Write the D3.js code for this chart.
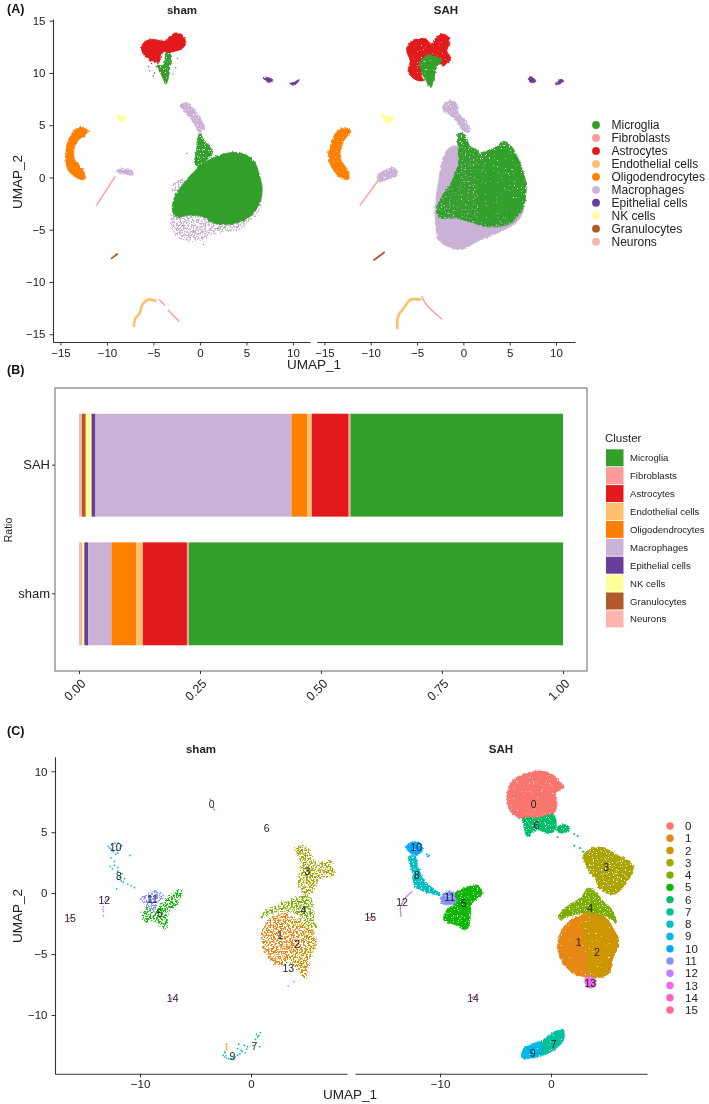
<!DOCTYPE html>
<html>
<head>
<meta charset="utf-8">
<script src="https://cdn.jsdelivr.net/npm/d3@7"></script>
<style>
  html, body { margin: 0; padding: 0; background: #fff; }
  svg { display: block; font-family: "Liberation Sans", Arial, sans-serif; filter: blur(0.35px); }
</style>
</head>
<body>
<svg id="chart" width="709" height="1104"></svg>
<script>
// cell types, in legend order
const cellTypes = ['Microglia', 'Fibroblasts', 'Astrocytes', 'Endothelial cells', 'Oligodendrocytes', 'Macrophages', 'Epithelial cells', 'NK cells', 'Granulocytes', 'Neurons']
const cellColors = ['#33A02C', '#FB9A99', '#E31A1C', '#FDBF6F', '#FF7F00', '#CAB2D6', '#6A3D9A', '#FFFF99', '#B15928', '#FBB4AE']
const clusterIds = ['0', '1', '2', '3', '4', '5', '6', '7', '8', '9', '10', '11', '12', '13', '14', '15']
const clusterColors = ['#F8766D', '#E68613', '#CD9600', '#ABA300', '#7CAE00', '#0CB702', '#00BE67', '#00C19A', '#00BFC4', '#00B8E7', '#00A9FF', '#8494FF', '#C77CFF', '#ED68ED', '#FF61CC', '#FF68A1']

// panel B, share of cells per group (left to right in the stack)
const stackOrder = ['Neurons', 'Granulocytes', 'NK cells', 'Epithelial cells', 'Macrophages', 'Oligodendrocytes', 'Endothelial cells', 'Astrocytes', 'Fibroblasts', 'Microglia']
const sahRatio = [0.006, 0.008, 0.012, 0.008, 0.405, 0.033, 0.009, 0.076, 0.004, 0.439]
const shamRatio = [0.006, 0.0005, 0.0045, 0.008, 0.048, 0.051, 0.014, 0.091, 0.004, 0.773]
const ratioGroups = ['SAH', 'sham']
const ratioTicks = [0, 0.25, 0.5, 0.75, 1]

// tick values
const umapXTicksA = [-15, -10, -5, 0, 5, 10]
const umapYTicksA = [-15, -10, -5, 0, 5, 10, 15]
const umapXTicksC = [-10, 0]
const umapYTicksC = [-10, -5, 0, 5, 10]

// panel A sham, outlines in UMAP units
const shamMicrogliaMain = [[-2.97, -3.12], [-2.69, -1.85], [-1.43, -0.25], [0.36, 1.34], [2.51, 2.23], [4.3, 2.36], [5.73, 1.66], [6.45, 0.06], [6.7, -1.21], [6.27, -2.8], [5.02, -3.92], [3.23, -4.46], [1.43, -4.33], [0.36, -3.76], [-1.08, -3.6], [-2.51, -3.76]]
const shamMicrogliaNeck = [[0, 4.2], [0.43, 3.57], [1.08, 2.93], [1.33, 2.29], [0.72, 1.66], [0, 0.86], [-0.54, 1.34], [-0.36, 2.61], [-0.29, 3.57]]
const shamMicrogliaTop = [[-3.58, 12.17], [-3.05, 11.53], [-3.23, 10.57], [-3.41, 9.46], [-3.66, 8.92], [-4.12, 9.78], [-4.59, 10.73], [-3.94, 10.73]]
const shamAstro = [[-6.27, 12.17], [-6.09, 12.87], [-5.2, 13.22], [-3.94, 13.06], [-3.41, 13.28], [-2.69, 13.82], [-1.86, 13.6], [-1.51, 12.8], [-1.97, 12.32], [-3.05, 12.0], [-3.94, 12.0], [-4.37, 11.05], [-5.2, 11.2], [-5.91, 11.59]]
const shamEpiLeft = [[6.81, 9.55], [7.35, 9.55], [7.89, 9.3], [7.35, 9.1], [7.0, 9.3]]
const shamEpiRight = [[9.68, 8.98], [10.2, 9.14], [10.68, 9.36], [10.39, 8.98], [9.96, 8.82]]
const shamNk = [[-8.96, 5.89], [-8.42, 5.86], [-7.78, 5.8], [-8.17, 5.48], [-8.6, 5.41]]
const shamOligo = [[-12.37, 4.68], [-13.08, 4.78], [-13.9, 4.04], [-14.44, 2.29], [-14.16, 0.7], [-13.08, -0.1], [-12.37, -0.19], [-12.54, 0.7], [-13.44, 1.66], [-13.55, 2.61], [-13.08, 3.57], [-12.37, 4.04], [-12.0, 4.46]]
const shamMacTail = [[-2.15, 6.91], [-1.43, 7.13], [-0.54, 6.43], [0.18, 5.48], [0.47, 4.68], [0, 4.36], [-0.54, 5.0], [-1.25, 5.96], [-1.97, 6.62]]
const shamMacLeft = [[-8.96, 0.64], [-8.24, 0.86], [-7.35, 0.7], [-7.17, 0.22], [-8.06, 0.32], [-8.78, 0.38]]
const shamMacSide = [[-3.05, -1.05], [-2.51, -0.41], [-1.61, -0.19], [-1.79, -0.89], [-2.51, -1.37]]
const shamMacFringe = [[-2.97, -3.4], [-2.9, -5.0], [-2.15, -5.83], [0, -6.0], [1.43, -5.4], [4.3, -4.9], [6.1, -3.4], [6.6, -2.2], [5, -3], [0, -3]]
const shamAstroDots = [[-5.5, 10.6], [-5.2, 10.9], [-4.7, 10.6], [-4.9, 10.0], [-5, 9.7], [-4.3, 10.2], [-3.9, 9.6], [-5.4, 10.2], [-4.5, 10.9], [-3.7, 9.9]]
const shamMicrogliaDots = [[-2.6, 10.5], [-2.4, 11.4], [-2.9, 9.9], [-4.7, 11.3], [-1.4, 2.3], [0.4, -6.4], [-0.7, -5.1], [-1.9, -4.6], [1.9, -4.9], [2.7, -4.8]]

// panel A SAH, outlines in UMAP units
const sahMicrogliaMain = [[-2.88, -3.12], [-2.34, -1.85], [-1.26, -0.41], [-0.36, 1.34], [1.8, 2.29], [3.6, 2.93], [4.32, 3.47], [5.22, 2.93], [6.12, 1.34], [6.76, -0.57], [6.47, -2.8], [5.04, -4.39], [2.52, -4.71], [1.3, -4.4], [-1, -3.85], [-2.52, -3.85]]
const sahMicrogliaCore = [[3, 2.4], [5, 2.5], [6, 1], [6.4, -1], [6, -3], [4, -4.4], [2, -4], [1.5, -1], [1.7, 1]]
const sahMicrogliaNeck = [[-0.5, 4.3], [0.2, 4.0], [0.7, 3.0], [1.6, 2.5], [1.4, 1.5], [-0.3, 1.0], [-0.55, 2.5]]
const sahMicrogliaTop = [[-4.68, 11.05], [-3.78, 11.69], [-2.34, 11.2], [-2.88, 10.57], [-3.17, 9.55], [-3.53, 8.6], [-4.14, 9.46], [-4.5, 10.1]]
const sahMacMain = [[-2.88, -5.35], [-3.06, -2.8], [-2.7, -0.57], [-1.98, 2.29], [-1.08, 3.03], [0, 2.6], [1.44, 1.97], [5, -2.2], [6.5, -2.55], [5.94, -4.08], [3.6, -5.35], [1.44, -6.15], [-0.18, -6.88], [-1.8, -6.56], [-2.7, -5.99]]
const sahMacTail = [[-2.23, 6.75], [-1.62, 7.32], [-0.72, 7.07], [-0.54, 6.11], [0.36, 5.32], [0.65, 4.36], [0.07, 4.36], [-0.72, 5.32], [-1.44, 5.96], [-1.98, 6.27]]
const sahMacLeft = [[-9.28, 0.22], [-8.45, 0.7], [-7.37, 0.92], [-7.12, 0.22], [-8.45, -0.25], [-9.06, -0.41]]
const sahAstro = [[-6.12, 12.17], [-5.58, 13.06], [-4.14, 13.28], [-3.42, 12.8], [-2.7, 13.66], [-1.8, 13.6], [-1.44, 12.8], [-1.8, 12.17], [-1.37, 11.37], [-2.16, 10.73], [-3.24, 11.2], [-4.14, 11.05], [-4.5, 9.62], [-4.14, 9.3], [-5.04, 9.3], [-5.94, 10.1], [-5.76, 11.2]]
const sahEpiLeft = [[7.01, 9.55], [7.37, 9.62], [7.84, 9.2], [7.27, 9.08]]
const sahEpiRight = [[9.96, 8.89], [10.43, 9.36], [10.79, 9.3], [10.5, 8.98]]
const sahNk = [[-8.92, 6.05], [-8.09, 5.8], [-7.48, 5.8], [-7.91, 5.22], [-8.45, 5.41]]
const sahOligo = [[-12.95, 4.75], [-12.16, 4.46], [-12.95, 3.41], [-13.31, 1.97], [-12.41, 0.54], [-12.41, -0.16], [-13.13, -0.1], [-14.03, 0.7], [-14.57, 1.97], [-14.21, 3.41], [-13.67, 4.36]]

// panel A thin trails
const shamFibroLeft = [[-11.1, -2.64], [-10.2, -1.4], [-9.14, 0.06]]
const shamFibroLow = [[-4.37, -11.7], [-3.8, -12.2]]
const shamFibroLower = [[-3.4, -12.7], [-2.26, -13.75]]
const shamGranulo = [[-9.5, -7.74], [-8.89, -7.32]]
const shamEndo = [[-7.1, -14.2], [-6.95, -13.5], [-6.5, -13], [-6.2, -12.2], [-5.6, -11.7], [-4.8, -11.8]]
const sahFibroLeft = [[-11.15, -2.64], [-10.2, -1.5], [-9.17, -0.25]]
const sahFibroLow = [[-4.5, -11.4], [-3.96, -12.2], [-2.34, -13.54]]
const sahGranulo = [[-9.64, -7.9], [-8.56, -7.17]]
const sahEndo = [[-7.12, -14.43], [-7.05, -13.3], [-6.33, -12.36], [-5.76, -11.72], [-4.68, -11.66]]

const shamLooseA = [['Macrophages', shamMacFringe], ['Macrophages', shamMacSide]]
const shamGrainA = [['Macrophages', shamMacTail], ['Macrophages', shamMacLeft], ['Microglia', shamMicrogliaTop], ['Microglia', shamMicrogliaNeck]]
const shamSolidA = [['Microglia', shamMicrogliaMain], ['Astrocytes', shamAstro], ['Epithelial cells', shamEpiLeft], ['Epithelial cells', shamEpiRight], ['NK cells', shamNk], ['Oligodendrocytes', shamOligo]]
const shamDotsA = [['Astrocytes', shamAstroDots], ['Microglia', shamMicrogliaDots]]
const shamTrailsA = [['Fibroblasts', shamFibroLeft], ['Fibroblasts', shamFibroLow], ['Fibroblasts', shamFibroLower], ['Granulocytes', shamGranulo], ['Endothelial cells', shamEndo]]
const sahSolidA = [['Macrophages', sahMacMain], ['Epithelial cells', sahEpiLeft], ['Epithelial cells', sahEpiRight], ['NK cells', sahNk]]
const sahGrainA = [['Macrophages', sahMacTail], ['Macrophages', sahMacLeft], ['Microglia', sahMicrogliaNeck], ['Microglia', sahMicrogliaMain]]
const sahFineA = [['Astrocytes', sahAstro], ['Oligodendrocytes', sahOligo], ['Microglia', sahMicrogliaCore], ['Microglia', sahMicrogliaTop]]
const sahTrailsA = [['Fibroblasts', sahFibroLeft], ['Fibroblasts', sahFibroLow], ['Granulocytes', sahGranulo], ['Endothelial cells', sahEndo]]

// panel C sham
const cShamC3 = [[3.96, 3.7], [4.56, 3.92], [5.32, 3.56], [5.77, 2.6], [7.12, 2.6], [7.57, 1.56], [6.22, 1.23], [5.77, 0.41], [5.17, -0.14], [4.56, 0.14], [4.26, 1.23], [4.56, 2.33]]
const cShamC4 = [[0.81, -2.05], [1.41, -1.37], [3.21, -0.68], [4.56, -0.27], [5.32, -0.27], [5.62, -1.78], [5.77, -2.88], [5.02, -2.88], [4.71, -2.05], [3.21, -1.51], [1.41, -1.78]]
const cShamC1 = [[0.96, -3.42], [1.41, -2.33], [2.91, -1.64], [3.51, -1.78], [3.66, -5.34], [2.31, -5.89], [1.41, -5.07]]
const cShamC2 = [[3.51, -2.05], [5.02, -2.47], [5.92, -3.97], [5.32, -5.34], [4.86, -6.99], [4.41, -6.44], [3.51, -5.62]]
const cShamCore = [[2.01, -3.42], [3.21, -2.88], [4.71, -3.56], [4.56, -4.52], [3.21, -4.79], [2.16, -4.38]]
const cShamC5 = [[-9.7, -1.51], [-9.1, -0.96], [-8.2, -0.96], [-7.3, -0.14], [-6.55, 0.27], [-6.25, 0.14], [-6.7, -0.96], [-7.45, -1.51], [-7.6, -2.88], [-7.9, -2.88], [-8.8, -2.19], [-9.7, -2.33]]
const cShamC11 = [[-10, -0.47], [-9.25, 0], [-8.65, 0.22], [-7.9, -0.27], [-8.5, -0.82], [-8.65, -1.51], [-9.25, -1.23], [-9.7, -0.82]]
const cShamDots0 = [[-3.65, 7.7], [-3.4, 7.0], [-3.3, 6.85]]
const cShamDots2 = [[-2.2, -12.4], [-2.2, -12.6], [-2.2, -12.8], [-2.35, -13.0]]
const cShamDots7 = [[0.6, -11.8], [0.85, -11.45], [0.5, -11.6], [0.7, -11.7], [0.4, -12.0], [0.8, -12.6], [0.2, -12.5], [-0.3, -12.6], [-0.6, -12.5], [-1.1, -12.4], [-1.2, -12.75], [-0.9, -12.9], [-0.8, -13.0], [-0.5, -13.1], [-0.4, -12.8]]
const cShamDots8 = [[-12.6, 2.9], [-12.3, 2.6], [-12.7, 2.2], [-12.5, 2.0], [-12.3, 2.3], [-12.0, 1.8], [-11.6, 1.6], [-11.8, 1.3], [-11.4, 1.2], [-11.1, 0.75], [-10.8, 0.6], [-10.5, 0.45], [-12.1, 0.35], [-11.5, 0.9], [-12.0, 2.1], [-10.9, 3.1], [-12.2, 3.2], [-11.7, 1.0]]
const cShamDots9 = [[-2.5, -13.3], [-2.4, -13.45], [-2.2, -13.55], [-2.0, -13.6], [-1.8, -13.65], [-1.6, -13.55], [-1.4, -13.45], [-1.2, -13.3], [-2.35, -13.1], [-2.25, -13.35], [-1.0, -13.2], [-1.5, -13.6]]
const cShamDots10 = [[-12.85, 3.84], [-12.55, 3.97], [-12.25, 4.1], [-11.95, 4.1], [-11.8, 3.7], [-12.4, 3.42], [-12.1, 3.56], [-12.55, 3.6], [-11.65, 3.9], [-12.7, 3.7], [-12.0, 3.3]]
const cShamDots12 = [[-13.1, -0.55], [-12.9, -0.5], [-13.3, -1.1], [-13.35, -1.3], [-13.3, -1.5], [-13.3, -1.85], [-13.2, -0.7], [-12.8, -0.4]]
const cShamDots13 = [[4.2, -6.0], [3.35, -7.6], [3.85, -7.25], [5.0, -6.1]]
const cShamDots14 = [[-7.1, -8.6], [-6.9, -8.55], [-7.2, -8.7]]
const cShamDots15 = [[-16.3, -2.05], [-16.1, -2.0], [-16.4, -2.1]]
const cShamLabels = [[-3.54, 7.32], [2.61, -3.48], [4.17, -4.16], [5.08, 1.78], [4.71, -1.4], [-8.26, -1.67], [1.41, 5.32], [0.3, -12.6], [-11.89, 1.37], [-1.68, -13.4], [-12.19, 3.75], [-8.89, -0.47], [-13.21, -0.55], [3.36, -6.16], [-7.06, -8.63], [-16.31, -2.05]]

// panel C SAH
const cSahC0 = [[-3.96, 7.95], [-3.51, 9.18], [-2.16, 9.86], [-0.66, 10.0], [0.54, 9.45], [1.08, 8.63], [0.39, 8.22], [0.54, 7.4], [0.24, 6.52], [-1.26, 6.16], [-2.76, 6.16], [-3.66, 6.71]]
const cSahC6 = [[-2.61, 6.16], [-1.26, 6.16], [0.24, 6.44], [0.39, 5.2], [-0.21, 4.88], [-1.26, 5.2], [-2.16, 4.66], [-2.4, 5.48]]
const cSahC6b = [[0.54, 5.42], [1.29, 5.62], [1.74, 5.2], [1.14, 4.93], [0.54, 5.07]]
const cSahC3 = [[2.94, 3.15], [3.39, 3.56], [4.44, 3.78], [5.95, 3.15], [7.45, 2.19], [7.15, 1.37], [6.6, 0.6], [5.65, -0.1], [4.3, 0.4], [4.0, 1.2], [3.39, 1.78], [3.09, 2.47]]
const cSahC4 = [[0.69, -1.92], [1.44, -1.1], [2.64, -0.41], [3.39, 0.41], [4.14, 0], [4.59, -0.55], [5.5, -1.37], [5.89, -2.47], [5.05, -1.92], [3.24, -1.64], [1.44, -1.92], [0.84, -2.19]]
const cSahC1 = [[0.6, -4.38], [0.99, -3.01], [2.04, -2.05], [3.54, -1.64], [4.74, -1.92], [5.65, -3.01], [6.1, -4.11], [5.5, -5.48], [5.2, -6.58], [3.54, -6.9], [2.04, -6.58], [0.99, -5.62]]
const cSahC2 = [[3.0, -2.2], [4.74, -1.92], [5.65, -3.01], [6.1, -4.11], [5.5, -5.48], [5.2, -6.58], [3.54, -6.9], [3.2, -5]]
const cSahC13 = [[3.09, -6.99], [3.84, -6.9], [3.99, -7.67], [3.24, -7.73]]
const cSahC10 = [[-13.03, 3.84], [-12.52, 4.19], [-11.77, 4.11], [-11.62, 3.42], [-12.37, 3.15], [-12.82, 3.42]]
const cSahC8 = [[-12.82, 3.01], [-12.22, 3.01], [-11.92, 2.05], [-11.47, 1.1], [-9.97, -0.14], [-10.27, -0.14], [-12.22, 0.55], [-12.52, 1.78]]
const cSahC11 = [[-9.91, -0.41], [-9.37, 0.14], [-8.62, 0], [-8.47, -0.68], [-9.37, -0.96], [-9.82, -0.82]]
const cSahC5 = [[-8.62, 0], [-7.87, 0.41], [-6.52, 0.63], [-6.22, -0.14], [-7.12, -0.82], [-7.27, -2.05], [-7.63, -3.01], [-8.62, -2.6], [-9.67, -2.19], [-9.37, -1.37], [-8.47, -0.68]]
const cSahC7 = [[-1.26, -13.29], [-0.96, -12.33], [0.09, -11.51], [1.08, -11.18], [1.14, -12.05], [0.24, -12.88], [-0.66, -13.29]]
const cSahC9 = [[-2.61, -13.56], [-2.46, -12.74], [-1.86, -12.47], [-0.96, -12.19], [-0.96, -13.29], [-1.86, -13.56]]
const cSahTrail12 = [[-12.52, 0.14], [-13.27, -0.55], [-13.57, -1.23], [-13.51, -1.92]]
const cSahDots6 = [[2.1, 4.85], [2.4, 4.7], [0.6, 4.6], [2.1, 3.9], [2.6, 3.7], [2.9, 3.4]]
const cSahDots10 = [[-11.2, 3.2], [-11.0, 3.1], [-11.1, 3.0]]
const cSahDots14 = [[-7.1, -8.58], [-6.82, -8.5], [-6.95, -8.55]]
const cSahDots15 = [[-16.43, -2.0], [-16.1, -2.0], [-16.28, -2.05]]
const cSahLabels = [[-1.56, 7.29], [2.49, -4.0], [4.14, -4.88], [4.98, 2.14], [3.54, -1.23], [-7.87, -0.85], [-1.32, 5.53], [0.24, -12.38], [-12.07, 1.45], [-1.65, -13.15], [-12.13, 3.78], [-9.13, -0.36], [-13.42, -0.77], [3.54, -7.4], [-7.03, -8.6], [-16.28, -2.0]]

const cShamLoose = [[3, cShamC3], [4, cShamC4], [1, cShamC1], [2, cShamC2], [5, cShamC5], [11, cShamC11], [1, cShamCore]]
const cShamDots = [[0, cShamDots0], [2, cShamDots2], [7, cShamDots7], [8, cShamDots8], [9, cShamDots9], [10, cShamDots10], [12, cShamDots12], [13, cShamDots13], [14, cShamDots14], [15, cShamDots15]]
const cSahGrain = [[3, cSahC3], [4, cSahC4], [6, cSahC6], [6, cSahC6b], [5, cSahC5], [8, cSahC8]]
const cSahFine = [[0, cSahC0], [1, cSahC1], [2, cSahC2], [13, cSahC13], [10, cSahC10], [11, cSahC11], [7, cSahC7], [9, cSahC9]]
const cSahDots = [[6, cSahDots6], [10, cSahDots10], [14, cSahDots14], [15, cSahDots15]]

const svg = d3.select('#chart')
const axisColor = '#333'

const defs = svg.append('defs')

// point clouds are drawn as outlines: these filters give them the grain of the cloud
function addGrainFilter(id, roughness, slope, offset, frequency) {
  const f = defs.append('filter').attr('id', id)
    .attr('filterUnits', 'userSpaceOnUse')
    .attr('x', 0).attr('y', 0).attr('width', 709).attr('height', 1104)
    .attr('color-interpolation-filters', 'sRGB')
  f.append('feTurbulence').attr('type', 'fractalNoise').attr('baseFrequency', 0.35)
    .attr('numOctaves', 2).attr('seed', 4).attr('result', 'warp')
  f.append('feDisplacementMap').attr('in', 'SourceGraphic').attr('in2', 'warp')
    .attr('scale', roughness).attr('xChannelSelector', 'R').attr('yChannelSelector', 'G').attr('result', 'rough')
  f.append('feTurbulence').attr('type', 'fractalNoise').attr('baseFrequency', frequency)
    .attr('numOctaves', 1).attr('seed', 9)
  f.append('feColorMatrix').attr('type', 'matrix')
    .attr('values', `0 0 0 0 0  0 0 0 0 0  0 0 0 0 0  ${slope} 0 0 0 ${offset}`).attr('result', 'mask')
  f.append('feComposite').attr('in', 'rough').attr('in2', 'mask').attr('operator', 'in')
}
addGrainFilter('rough', 3, 0, 1, 0.8)
addGrainFilter('fine', 3, 14, -3.3, 0.75)
addGrainFilter('grain', 3, 14, -4.2, 0.75)
addGrainFilter('loose', 6, 16, -7.6, 0.6)

function drawShapes(group, shapes, colorOf, filterId) {
  const line = d3.line().x((d) => group.x(d[0])).y((d) => group.y(d[1])).curve(d3.curveCatmullRomClosed.alpha(0.5))
  group.node.append('g').attr('filter', `url(#${filterId})`)
    .selectAll('path').data(shapes).enter().append('path')
    .attr('d', (d) => line(d[1]))
    .attr('fill', (d) => colorOf(d[0]))
    .attr('stroke', (d) => colorOf(d[0]))
    .attr('stroke-width', 0.8)
}

function drawTrails(group, trails, colorOf, widthOf) {
  const line = d3.line().x((d) => group.x(d[0])).y((d) => group.y(d[1])).curve(d3.curveCatmullRom)
  group.node.append('g').selectAll('path').data(trails).enter().append('path')
    .attr('d', (d) => line(d[1]))
    .attr('fill', 'none')
    .attr('stroke', (d) => colorOf(d[0]))
    .attr('stroke-width', (d) => widthOf(d[0]))
    .attr('stroke-linecap', 'round')
}

function drawDots(group, dots, colorOf, radius) {
  const flat = dots.flatMap(([key, points]) => points.map((p) => ({ key, p })))
  group.node.append('g').selectAll('circle').data(flat).enter().append('circle')
    .attr('cx', (d) => group.x(d.p[0]))
    .attr('cy', (d) => group.y(d.p[1]))
    .attr('r', radius)
    .attr('fill', (d) => colorOf(d.key))
}

function styleAxis(g, fontSize) {
  g.selectAll('.domain').attr('stroke', axisColor).attr('stroke-width', 1.1)
  g.selectAll('.tick line').attr('stroke', axisColor).attr('stroke-width', 1)
  g.selectAll('.tick text').attr('fill', '#222').attr('font-size', fontSize).attr('font-family', '"Liberation Sans", Arial, sans-serif')
}

function makePanel(xDomain, xRange, yDomain, yRange) {
  return {
    node: svg.append('g'),
    x: d3.scaleLinear().domain(xDomain).range(xRange),
    y: d3.scaleLinear().domain(yDomain).range(yRange),
  }
}

function addTitle(text, x, y) {
  svg.append('text').attr('x', x).attr('y', y).attr('text-anchor', 'middle')
    .attr('font-size', 11.5).attr('font-weight', 'bold').attr('fill', '#222').text(text)
}

function addAxisLabel(text, x, y, size, rotate) {
  svg.append('text').attr('text-anchor', 'middle').attr('font-size', size).attr('fill', '#222')
    .attr('transform', `translate(${x},${y})${rotate ? ' rotate(-90)' : ''}`).text(text)
}

function addPanelTag(text, y) {
  svg.append('text').attr('x', 7).attr('y', y).attr('font-size', 12.5).attr('font-weight', 'bold').attr('fill', '#111').text(text)
}

function bottomAxis(scale, ticks, y) {
  svg.append('g').attr('transform', `translate(0,${y})`)
    .call(d3.axisBottom(scale).tickValues(ticks).tickSize(3.5).tickSizeOuter(0).tickPadding(3).tickFormat(d3.format('d')))
    .call(styleAxis, 11.5)
}

function leftAxis(scale, ticks, x) {
  svg.append('g').attr('transform', `translate(${x},0)`)
    .call(d3.axisLeft(scale).tickValues(ticks).tickSize(3.5).tickSizeOuter(0).tickPadding(4).tickFormat(d3.format('d')))
    .call(styleAxis, 11.5)
}

// ---------- panel A ----------
const cellColor = d3.scaleOrdinal().domain(cellTypes).range(cellColors)
const trailWidth = (name) => (name === 'Endothelial cells' ? 2.6 : name === 'Granulocytes' ? 1.8 : 1.3)

const shamA = makePanel([-15.8, 11.84], [53, 310], [-15.74, 15.16], [342, 19])
const sahA = makePanel([-15.8, 12.05], [317, 575], [-15.74, 15.16], [342, 19])

drawShapes(shamA, shamLooseA, cellColor, 'loose')
drawShapes(shamA, shamGrainA, cellColor, 'grain')
drawShapes(shamA, shamSolidA, cellColor, 'rough')
drawTrails(shamA, shamTrailsA, cellColor, trailWidth)
drawDots(shamA, shamDotsA, cellColor, 0.7)

drawShapes(sahA, sahSolidA, cellColor, 'rough')
drawShapes(sahA, sahGrainA, cellColor, 'grain')
drawShapes(sahA, sahFineA, cellColor, 'fine')
drawTrails(sahA, sahTrailsA, cellColor, trailWidth)

bottomAxis(shamA.x, umapXTicksA, 342)
bottomAxis(sahA.x, umapXTicksA, 342)
leftAxis(shamA.y, umapYTicksA, 53)

addTitle('sham', 182, 14)
addTitle('SAH', 446, 14)
addAxisLabel('UMAP_1', 314, 369, 13.5)
addAxisLabel('UMAP_2', 22, 182, 13.5, true)
addPanelTag('(A)', 13)

const legendA = svg.append('g').selectAll('g').data(cellTypes).enter().append('g')
  .attr('transform', (d, i) => `translate(596,${125 + i * 12.96})`)
legendA.append('circle').attr('r', 3.9).attr('fill', (d) => cellColor(d))
legendA.append('text').attr('x', 15.5).attr('y', 4).attr('font-size', 12).attr('fill', '#222').text((d) => d)

// ---------- panel B ----------
const ratioRows = ratioGroups.map((group) => {
  const values = group === 'SAH' ? sahRatio : shamRatio
  const row = { group }
  stackOrder.forEach((name, i) => { row[name] = values[i] })
  return row
})
const stacked = d3.stack().keys(stackOrder)(ratioRows)
const xB = d3.scaleLinear().domain([0, 1]).range([79, 563])
const yB = d3.scaleBand().domain(ratioGroups).range([388, 671]).padding(0.2)

svg.append('g').selectAll('g').data(stacked).enter().append('g')
  .attr('fill', (d) => cellColor(d.key))
  .selectAll('rect').data((d) => d).enter().append('rect')
  .attr('x', (d) => xB(d[0]))
  .attr('y', (d) => yB(d.data.group))
  .attr('width', (d) => xB(d[1]) - xB(d[0]))
  .attr('height', yB.bandwidth())

svg.append('rect').attr('x', 55).attr('y', 388).attr('width', 532).attr('height', 283)
  .attr('fill', 'none').attr('stroke', '#7f7f7f').attr('stroke-width', 1.2)

const xAxisB = svg.append('g').attr('transform', 'translate(0,671)')
  .call(d3.axisBottom(xB).tickValues(ratioTicks).tickSize(3).tickSizeOuter(0).tickFormat(d3.format('.2f')))
  .call(styleAxis, 12.5)
xAxisB.select('.domain').remove()
xAxisB.selectAll('.tick text').attr('text-anchor', 'end').attr('dx', '0.15em').attr('dy', '0.5em')
  .attr('transform', 'translate(-3,6) rotate(-45)')

const yAxisB = svg.append('g').attr('transform', 'translate(55,0)')
  .call(d3.axisLeft(yB).tickSize(3).tickSizeOuter(0).tickPadding(2))
  .call(styleAxis, 13)
yAxisB.select('.domain').remove()

addAxisLabel('Ratio', 12, 530, 10.5, true)
addPanelTag('(B)', 374)

svg.append('text').attr('x', 605).attr('y', 442).attr('font-size', 11.5).attr('fill', '#222').text('Cluster')
const legendB = svg.append('g').selectAll('g').data(cellTypes).enter().append('g')
  .attr('transform', (d, i) => `translate(606,${449.3 + i * 17.9})`)
legendB.append('rect').attr('width', 17.5).attr('height', 17).attr('fill', (d) => cellColor(d))
legendB.append('text').attr('x', 24).attr('y', 12).attr('font-size', 9.6).attr('fill', '#222').text((d) => d)

// ---------- panel C ----------
const clusterColor = (i) => clusterColors[i]
const shamC = makePanel([-17.66, 8.65], [55, 347], [-14.82, 11.2], [1073.7, 756.7])
const sahC = makePanel([-17.66, 8.65], [355, 647], [-14.82, 11.2], [1073.7, 756.7])

drawShapes(shamC, cShamLoose, clusterColor, 'loose')
drawDots(shamC, cShamDots, clusterColor, 0.85)
drawShapes(sahC, cSahFine, clusterColor, 'fine')
drawShapes(sahC, cSahGrain, clusterColor, 'grain')
drawTrails(sahC, [[12, cSahTrail12]], clusterColor, () => 1.2)
drawDots(sahC, cSahDots, clusterColor, 1)

function drawClusterLabels(group, labels) {
  group.node.append('g').selectAll('text').data(labels).enter().append('text')
    .attr('x', (d) => group.x(d[0]))
    .attr('y', (d) => group.y(d[1]))
    .attr('dy', '0.35em')
    .attr('text-anchor', 'middle')
    .attr('font-size', 10.5)
    .attr('fill', '#222')
    .text((d, i) => clusterIds[i])
}
drawClusterLabels(shamC, cShamLabels)
drawClusterLabels(sahC, cSahLabels)

bottomAxis(shamC.x, umapXTicksC, 1073.7)
bottomAxis(sahC.x, umapXTicksC, 1073.7)
leftAxis(shamC.y, umapYTicksC, 55)

addTitle('sham', 201, 753)
addTitle('SAH', 501, 753)
addAxisLabel('UMAP_1', 350, 1099, 13.5)
addAxisLabel('UMAP_2', 22, 916, 13.5, true)
addPanelTag('(C)', 735)

const legendC = svg.append('g').selectAll('g').data(clusterIds).enter().append('g')
  .attr('transform', (d, i) => `translate(670,${826 + i * 12.27})`)
legendC.append('circle').attr('r', 3.7).attr('fill', (d, i) => clusterColor(i))
legendC.append('text').attr('x', 15).attr('y', 4).attr('font-size', 11.5).attr('fill', '#222').text((d) => d)
</script>
</body>
</html>
